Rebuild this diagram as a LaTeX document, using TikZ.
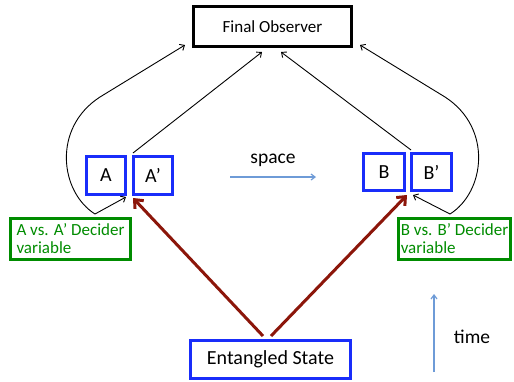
\documentclass[tikz,border=0pt]{standalone}
\usepackage{fontspec}
\setmainfont{Carlito}
\usetikzlibrary{arrows.meta}
\definecolor{bblue}{RGB}{25,45,250}
\definecolor{dgreen}{RGB}{0,140,0}
\definecolor{dred}{RGB}{140,22,10}
\definecolor{lblue}{RGB}{110,155,215}
\begin{document}
\begin{tikzpicture}[x=1pt,y=-1pt,
  bluebox/.style={draw=bblue, line width=3pt, inner sep=0pt, font=\fontsize{20}{24}\selectfont},
  blackbox/.style={draw=black, line width=3pt, inner sep=0pt, font=\fontsize{17}{20}\selectfont},
  greenbox/.style={draw=dgreen, line width=3pt, inner sep=0pt, text=dgreen, align=left,
     font=\fontsize{17}{18}\selectfont},
  thinarrow/.style={draw=black, line width=0.9pt, -{Straight Barb[length=4pt,width=7pt]}},
  redarrow/.style={draw=dred, line width=3pt, -{Straight Barb[length=7pt,width=12pt]}},
  guidearrow/.style={draw=lblue, line width=1.2pt, -{Straight Barb[length=4pt,width=6pt]}},
  lbl/.style={font=\fontsize{19.5}{22}\selectfont, inner sep=0pt}
]
\useasboundingbox (0,0) rectangle (514,381);
\fill[white] (0,0) rectangle (514,381);

\node[blackbox, minimum width=158pt, minimum height=40pt] (FO) at (272.5,26.5) {Final Observer};
\node[bluebox, minimum width=39pt, minimum height=38pt] (A) at (106,175.5) {A};
\node[bluebox, minimum width=39pt, minimum height=38pt] (Ap) at (153,175.5) {A’};
\node[bluebox, minimum width=41pt, minimum height=37pt] (B) at (384,172) {B};
\node[bluebox, minimum width=40pt, minimum height=37pt] (Bp) at (431.5,172) {B’};
\node[greenbox, minimum width=120pt, minimum height=41pt] (GA) at (70.5,239) {A vs. A’ Decider\\variable};
\node[greenbox, minimum width=112pt, minimum height=41pt] (GB) at (454.5,239) {B vs. B’ Decider\\variable};
\node[bluebox, minimum width=160pt, minimum height=38pt] (ES) at (270.5,359.5) {Entangled State};

\node[lbl] (space) at (273,160) {space};
\node[lbl] (time) at (472,337) {time};
\coordinate (s1) at (230,177);
\coordinate (s2) at (316,177);
\coordinate (t1) at (434,372);
\coordinate (t2) at (434,294);
\draw[guidearrow] (s1) -- (s2);
\draw[guidearrow] (t1) -- (t2);

% black connectors
\coordinate (ga) at (95,214);
\coordinate (gb) at (450,214);
\coordinate (fo1) at (185,45);
\coordinate (fo2) at (262,52);
\coordinate (fo3) at (281,52);
\coordinate (fo4) at (360,45);
\coordinate (apt) at (133,153);
\coordinate (bpt) at (411,150);
\coordinate (ab) at (126,197);
\coordinate (bb) at (413,195);
\draw[thinarrow] (ga) .. controls (60,192) and (52,128) .. (100,97) -- (fo1);
\draw[thinarrow] (gb) .. controls (485,192) and (493,128) .. (445,97) -- (fo4);
\draw[thinarrow] (ga) -- (ab);
\draw[thinarrow] (gb) -- (bb);
\draw[thinarrow] (apt) -- (fo2);
\draw[thinarrow] (bpt) -- (fo3);

% red connectors
\coordinate (e1) at (263,336);
\coordinate (e2) at (271,336);
\coordinate (ra) at (133,198);
\coordinate (rb) at (407,195);
\draw[redarrow] (e1) -- (ra);
\draw[redarrow] (e2) -- (rb);
\end{tikzpicture}
\end{document}
